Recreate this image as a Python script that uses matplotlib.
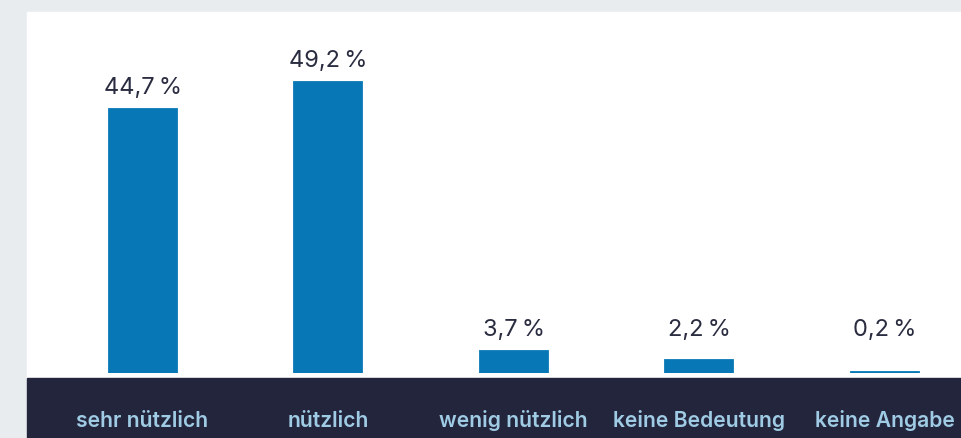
import matplotlib.pyplot as plt
from matplotlib.patches import Rectangle
from matplotlib.transforms import blended_transform_factory

plt.rcParams["font.family"] = ["Inter", "DejaVu Sans"]

categories = ["sehr nützlich", "nützlich", "wenig nützlich", "keine Bedeutung", "keine Angabe"]
shares = [44.7, 49.2, 3.7, 2.2, 0.2]
value_labels = ["44,7\u2009%", "49,2\u2009%", "3,7\u2009%", "2,2\u2009%", "0,2\u2009%"]

W, H = 962, 438
fig = plt.figure(figsize=(W / 100, H / 100), dpi=100)
fig.patch.set_facecolor("#e9ecef")

# white card and dark label band, drawn behind the axes
fig.patches.append(Rectangle((27 / W, 60 / H), 1, (378 - 12) / H,
                             transform=fig.transFigure, color="white", zorder=-2))
fig.patches.append(Rectangle((27 / W, 0), 1, 60 / H,
                             transform=fig.transFigure, color="#23253c", zorder=-2))

ax = fig.add_axes([27 / W, 65 / H, (W - 27) / W, (373 - 12) / H])
ax.set_facecolor("none")
ax.set_zorder(1)

step = 185.6
positions = list(range(len(categories)))
ax.bar(positions, shares, width=68 / step, color="#0877b6",
       edgecolor="#0877b6", linewidth=1.3)
ax.set_xlim((27 - 142.5) / step, (962 - 142.5) / step)
ax.set_ylim(0, 361 / 5.906)
ax.axis("off")

# labels of very small bars sit at a common minimum height
label_floor = 3.7
for x, v, lab in zip(positions, shares, value_labels):
    ax.annotate(lab, (x, max(v, label_floor)), xytext=(0, 11),
                textcoords="offset points", ha="center", va="baseline",
                fontsize=17, color="#2a2c40")

tr = blended_transform_factory(ax.transData, fig.transFigure)
for x, cat in zip(positions, categories):
    ax.text(x, 11 / H, cat, transform=tr, ha="center", va="baseline",
            fontsize=15.2, fontweight="semibold", color="#9fcbe4", clip_on=False)

fig.savefig("out.png", dpi=100, facecolor=fig.get_facecolor())
